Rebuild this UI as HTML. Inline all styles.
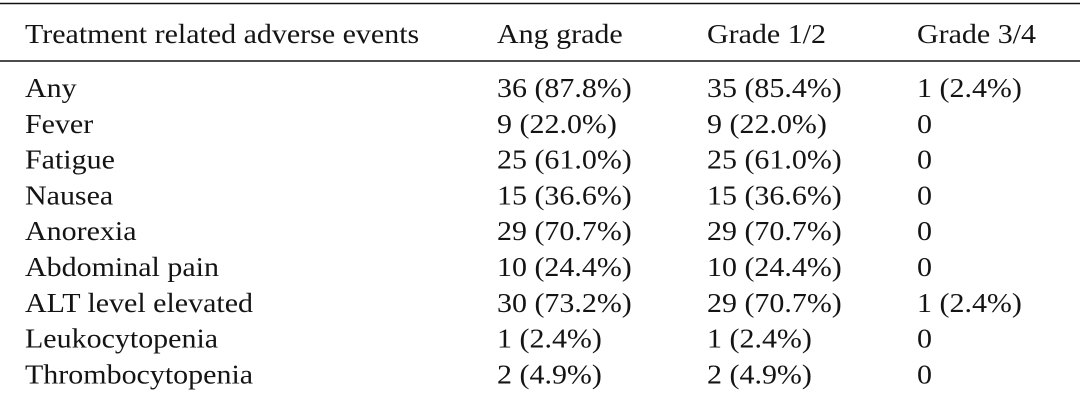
<!DOCTYPE html>
<html><head><meta charset="utf-8"><style>
html,body{margin:0;padding:0;background:#fff;}
svg{display:block;}
text{font-family:"Liberation Serif",serif;font-size:27px;fill:#141414;}
</style></head><body>
<svg width="1080" height="407">
<line x1="0" y1="3.5" x2="1080" y2="3.5" stroke="#111" stroke-width="1.5"/>
<line x1="0" y1="61" x2="1080" y2="61" stroke="#111" stroke-width="1.5"/>
<g>
<text x="25" y="43">Treatment related adverse events</text>
<text x="497" y="43">Ang grade</text>
<text x="707" y="43">Grade 1/2</text>
<text x="917" y="43">Grade 3/4</text>
</g>
<g id="body"></g>
</svg>
<script>
const events=["Any","Fever","Fatigue","Nausea","Anorexia","Abdominal pain","ALT level elevated","Leukocytopenia","Thrombocytopenia"];
const anyGrade=["36 (87.8%)","9 (22.0%)","25 (61.0%)","15 (36.6%)","29 (70.7%)","10 (24.4%)","30 (73.2%)","1 (2.4%)","2 (4.9%)"];
const grade12=["35 (85.4%)","9 (22.0%)","25 (61.0%)","15 (36.6%)","29 (70.7%)","10 (24.4%)","29 (70.7%)","1 (2.4%)","2 (4.9%)"];
const grade34=["1 (2.4%)","0","0","0","0","0","1 (2.4%)","0","0"];
const g=document.getElementById('body');
const ns="http://www.w3.org/2000/svg";
const cols=[[25,events,'event'],[497,anyGrade,'any-grade'],[707,grade12,'grade-1-2'],[917,grade34,'grade-3-4']];
events.forEach((e,i)=>{
  const y=97+i*35.8;
  cols.forEach(([x,arr,nm])=>{
    const t=document.createElementNS(ns,'text');
    t.setAttribute('x',x);t.setAttribute('y',y);
    t.textContent=arr[i];
    
    
    g.appendChild(t);
  });
});
document.querySelectorAll('text').forEach(t=>{
  const w=t.getComputedTextLength();
  if(w>0){t.setAttribute('textLength',(w*1.11).toFixed(1));t.setAttribute('lengthAdjust','spacingAndGlyphs');}
});
</script>
</body></html>
